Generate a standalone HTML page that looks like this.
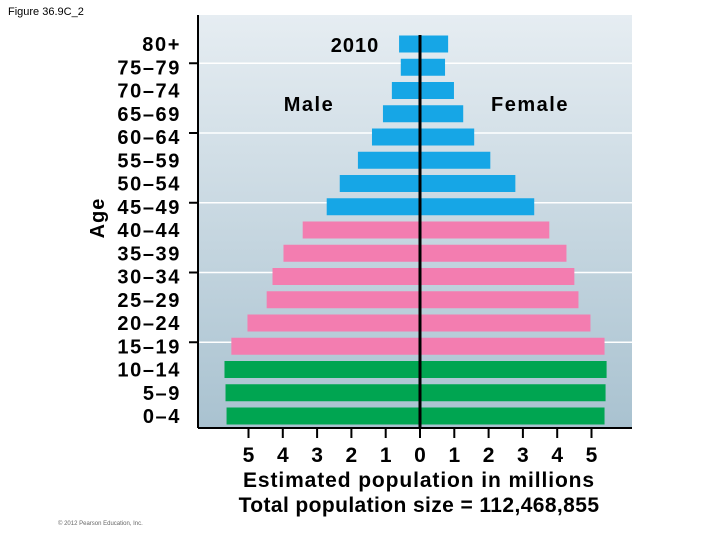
<!DOCTYPE html>
<html><head><meta charset="utf-8"><style>
body{margin:0;background:#fff;width:720px;height:540px;overflow:hidden;font-family:"Liberation Sans",Arial,sans-serif}
</style></head><body>
<svg width="720" height="540" xmlns="http://www.w3.org/2000/svg">
<defs><linearGradient id="bg" x1="0" y1="0" x2="0" y2="1"><stop offset="0" stop-color="#e6edf2"/><stop offset="1" stop-color="#a9c2d0"/></linearGradient></defs>
<text x="8" y="15" font-size="11">Figure 36.9C_2</text>
<rect x="198" y="15" width="434" height="413" fill="url(#bg)"/>
<g id="grid"></g>
<g id="bars"></g>
<line x1="198" y1="15" x2="198" y2="428" stroke="#000" stroke-width="2"/>
<line x1="198" y1="428" x2="632" y2="428" stroke="#000" stroke-width="2"/>
<g id="labels" font-size="20" font-weight="bold" text-anchor="end" letter-spacing="1.6"></g>
<g id="xticks" font-size="21" font-weight="bold" text-anchor="middle"></g>
<text x="355" y="52" font-size="20" font-weight="bold" text-anchor="middle" letter-spacing="1">2010</text>
<text x="309" y="111" font-size="20" font-weight="bold" text-anchor="middle" letter-spacing="1.5">Male</text>
<text x="530" y="111" font-size="20" font-weight="bold" text-anchor="middle" letter-spacing="1.5">Female</text>
<text x="104" y="218" font-size="20" font-weight="bold" text-anchor="middle" letter-spacing="1" transform="rotate(-90 104 218)">Age</text>
<text x="419" y="487" font-size="21" font-weight="bold" text-anchor="middle" letter-spacing="0.9">Estimated population in millions</text>
<text x="419" y="512" font-size="21" font-weight="bold" text-anchor="middle" letter-spacing="0.4">Total population size = 112,468,855</text>
<text x="58" y="525" font-size="6" fill="#666">© 2012 Pearson Education, Inc.</text>
<line id="center" x1="420" y1="35" x2="420" y2="428" stroke="#000" stroke-width="3"/>
</svg>
<script>
const ageGroups=["80+","75–79","70–74","65–69","60–64","55–59","50–54","45–49","40–44","35–39","30–34","25–29","20–24","15–19","10–14","5–9","0–4"];
const male=[0.61,0.56,0.82,1.08,1.40,1.81,2.34,2.72,3.42,3.98,4.30,4.47,5.03,5.50,5.70,5.67,5.64];
const female=[0.82,0.73,0.99,1.26,1.58,2.05,2.78,3.33,3.77,4.27,4.50,4.62,4.97,5.38,5.44,5.41,5.38];
const xTicks=[5,4,3,2,1,0,1,2,3,4,5];
const xTickSigned=[-5,-4,-3,-2,-1,0,1,2,3,4,5];
const ns="http://www.w3.org/2000/svg";
const cx=420,unit=34.3,y0=44,step=23.25,bh=17;
const xs=v=>cx+v*unit, ys=i=>y0+i*step;
function colorFor(i){return i<=7?"#16a6e6":(i<=13?"#f37db0":"#00a551");}
const bars=document.getElementById("bars"),grid=document.getElementById("grid"),labels=document.getElementById("labels"),xt=document.getElementById("xticks");
function mk(tag,a){const e=document.createElementNS(ns,tag);for(const k in a)e.setAttribute(k,a[k]);return e;}
[1,4,7,10,13].forEach(i=>{
 const y=ys(i)-4;
 const g=mk("line",{x1:198,y1:y,x2:632,y2:y,stroke:"#fff","stroke-width":1.5});
 
 
 grid.appendChild(g);
 const t=mk("line",{x1:189,y1:y,x2:198,y2:y,stroke:"#000","stroke-width":2});
 
 
 grid.appendChild(t);
});
ageGroups.forEach((a,i)=>{
 const y=ys(i)-bh/2;
 const m=mk("rect",{x:xs(-male[i]),y:y,width:male[i]*unit,height:bh,fill:colorFor(i)});
 
 
 bars.appendChild(m);
 const f=mk("rect",{x:cx,y:y,width:female[i]*unit,height:bh,fill:colorFor(i)});
 
 
 bars.appendChild(f);
 const t=mk("text",{x:181,y:ys(i)+7});
 t.textContent=a;
 
 
 labels.appendChild(t);
});
xTicks.forEach((v,i)=>{
 const x=xs(xTickSigned[i]);
 const l=mk("line",{x1:x,y1:428,x2:x,y2:438,stroke:"#000","stroke-width":2});
 
 
 xt.appendChild(l);
 const t=mk("text",{x:x,y:462});
 t.textContent=v;
 
 
 xt.appendChild(t);
});
</script>
</body></html>
